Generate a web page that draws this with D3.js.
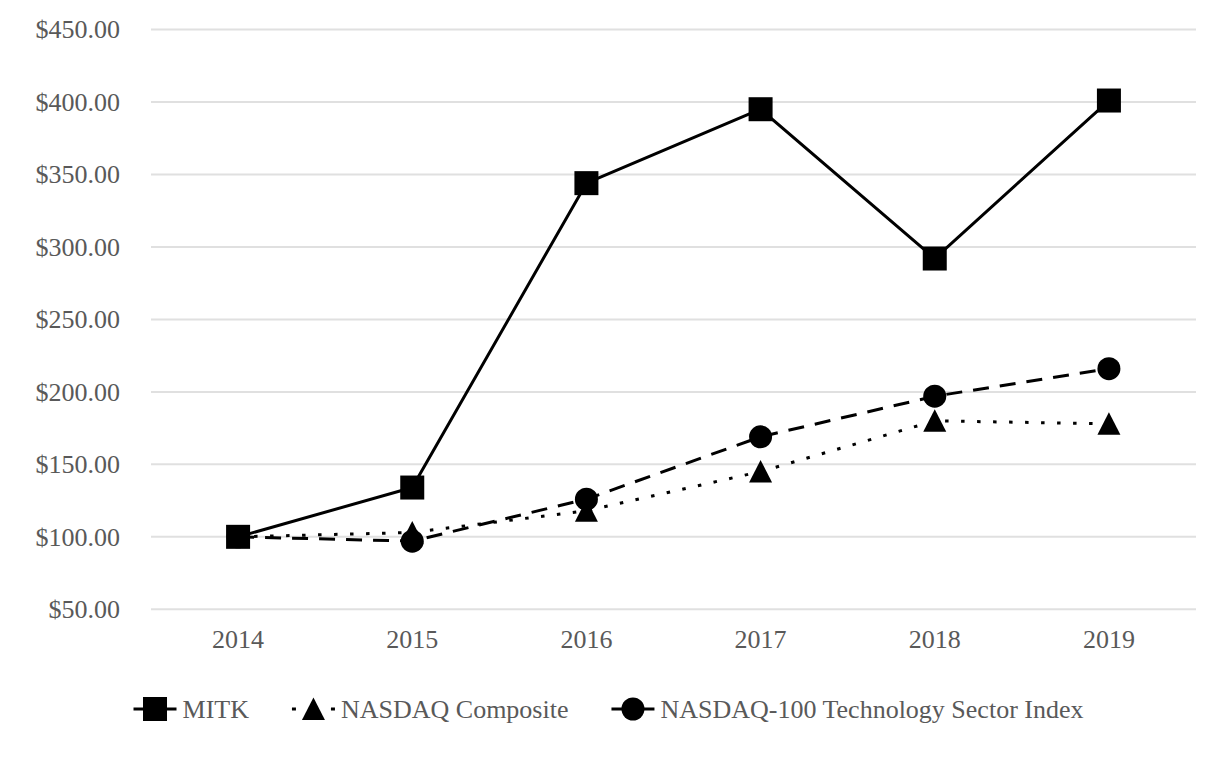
<!DOCTYPE html>
<html>
<head>
<meta charset="utf-8">
<script src="https://cdn.jsdelivr.net/npm/d3@7"></script>
<style>
  body { margin: 0; background: #fff; }
  svg text { font-family: "Liberation Serif", "DejaVu Serif", serif; }
</style>
</head>
<body>
<div id="chart"></div>
<script>
// data
const years = ["2014", "2015", "2016", "2017", "2018", "2019"];
const mitk = [100, 134, 344, 395, 292, 401];
const composite = [100, 103, 118, 145, 180, 178];
const techIndex = [100, 97, 126, 169, 197, 216];
const yTicks = [50, 100, 150, 200, 250, 300, 350, 400, 450];
const seriesNames = ["MITK", "NASDAQ Composite", "NASDAQ-100 Technology Sector Index"];

const width = 1226, height = 760;
const plot = {left: 151, right: 1196, top: 29.5, bottom: 609.3};

const svg = d3.select("#chart")
    .append("svg")
    .attr("width", width)
    .attr("height", height);

const x = d3.scaleBand()
    .domain(years)
    .range([plot.left, plot.right]);

const y = d3.scaleLinear()
    .domain([50, 450])
    .range([plot.bottom, plot.top]);

const textColor = "#595959";

// gridlines
svg.append("g")
    .selectAll("line")
    .data(yTicks)
    .join("line")
        .attr("x1", plot.left)
        .attr("x2", plot.right)
        .attr("y1", d => y(d))
        .attr("y2", d => y(d))
        .attr("stroke", "#e0e0e0")
        .attr("stroke-width", 2);

// y axis labels
const yAxis = svg.append("g")
    .attr("transform", `translate(${plot.left}, 0)`)
    .call(d3.axisLeft(y).tickValues(yTicks).tickSize(0).tickPadding(31)
        .tickFormat(d => "$" + d3.format(".2f")(d)));
yAxis.select(".domain").remove();
yAxis.selectAll("text")
    .attr("font-size", 26)
    .attr("fill", textColor);

// x axis labels
const xAxis = svg.append("g")
    .attr("transform", `translate(0, ${plot.bottom})`)
    .call(d3.axisBottom(x).tickSize(0).tickPadding(20));
xAxis.select(".domain").remove();
xAxis.selectAll("text")
    .attr("font-size", 26)
    .attr("fill", textColor);

// marker shapes
function marker(sel, kind) {
    if (kind === "square") {
        sel.append("rect")
            .attr("x", -12).attr("y", -12)
            .attr("width", 24).attr("height", 24)
            .attr("fill", "#000");
    } else if (kind === "triangle") {
        sel.append("path")
            .attr("d", "M0,-11.5L11.5,11L-11.5,11Z")
            .attr("fill", "#000");
    } else {
        sel.append("circle")
            .attr("r", 11.5)
            .attr("fill", "#000");
    }
}

const series = [
    {name: seriesNames[1], values: composite, dash: "3.5,12.5", kind: "triangle"},
    {name: seriesNames[2], values: techIndex, dash: "16,11", kind: "circle"},
    {name: seriesNames[0], values: mitk, dash: null, kind: "square"}
];

const line = d3.line()
    .x((d, i) => x(years[i]) + x.bandwidth() / 2)
    .y(d => y(d));

series.forEach(s => {
    const g = svg.append("g");
    g.append("path")
        .datum(s.values)
        .attr("fill", "none")
        .attr("stroke", "#000")
        .attr("stroke-width", 3)
        .attr("stroke-linejoin", "round")
        .attr("stroke-dasharray", s.dash)
        .attr("d", line);
    g.selectAll("g.pt")
        .data(s.values)
        .join("g")
            .attr("class", "pt")
            .attr("transform", (d, i) => `translate(${x(years[i]) + x.bandwidth() / 2}, ${y(d)})`)
            .each(function() { marker(d3.select(this), s.kind); });
});

// legend
const legendItems = [
    {name: seriesNames[0], dash: null, kind: "square"},
    {name: seriesNames[1], dash: "4,35", kind: "triangle"},
    {name: seriesNames[2], dash: "12,19", kind: "circle"}
];
const legend = svg.append("g");
const legendY = 709;
let lx = 0;
legendItems.forEach((item, i) => {
    const g = legend.append("g").attr("transform", `translate(${lx}, ${legendY})`);
    g.append("line")
        .attr("x1", 0).attr("x2", 43)
        .attr("stroke", "#000")
        .attr("stroke-width", 3)
        .attr("stroke-dasharray", item.dash);
    const m = g.append("g").attr("transform", "translate(21.5, 0)");
    marker(m, item.kind);
    const t = g.append("text")
        .attr("x", 49)
        .attr("dy", "0.35em")
        .attr("font-size", 26)
        .attr("fill", textColor)
        .text(item.name);
    lx += 49 + t.node().getComputedTextLength() + 43;
});
const legendWidth = lx - 43;
legend.attr("transform", `translate(${608.5 - legendWidth / 2}, 0)`);
</script>
</body>
</html>
